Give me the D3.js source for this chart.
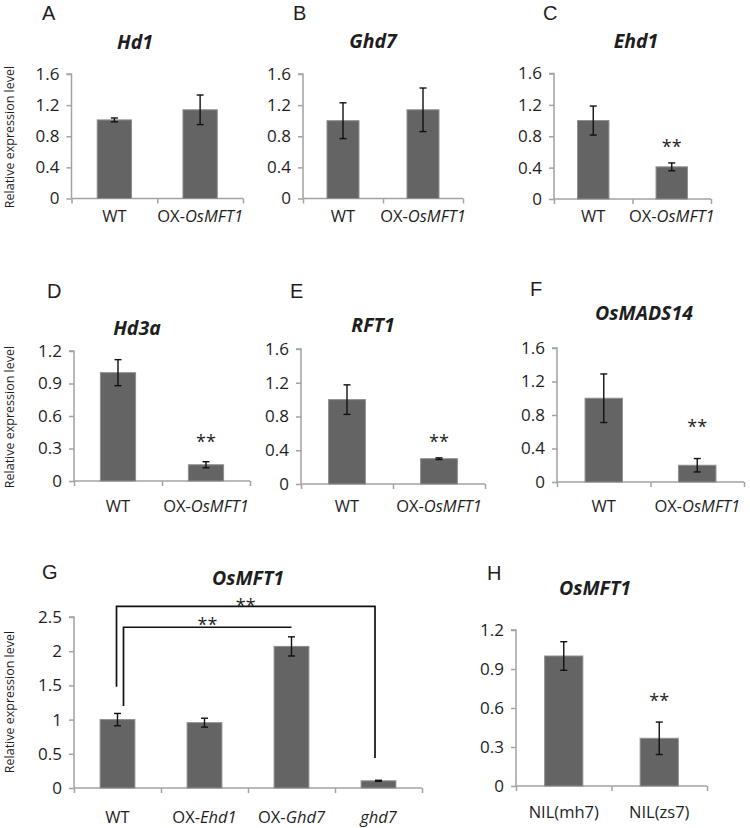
<!DOCTYPE html>
<html>
<head>
<meta charset="utf-8">
<style>
  body { margin: 0; background: #fff; }
  svg { display: block; font-family: "Open Sans", sans-serif; }
</style>
</head>
<body>
<svg width="750" height="828"></svg>

<script src="https://d3js.org/d3.v7.min.js"></script>
<script>
  // ---- data ----
  const letters = ["A", "B", "C", "D", "E", "F", "G", "H"];
  const genes = ["Hd1", "Ghd7", "Ehd1", "Hd3a", "RFT1", "OsMADS14", "OsMFT1", "OsMFT1"];

  // <i>..</i> marks the italic part of a label
  const oxCategories = ["WT", "OX-<i>OsMFT1</i>"];
  const gCategories = ["WT", "OX-<i>Ehd1</i>", "OX-<i>Ghd7</i>", "<i>ghd7</i>"];
  const hCategories = ["NIL(mh7)", "NIL(zs7)"];

  const means = [
    [1.01, 1.14],
    [1.00, 1.14],
    [1.00, 0.41],
    [1.00, 0.15],
    [1.00, 0.30],
    [1.00, 0.20],
    [1.00, 0.955, 2.07, 0.105],
    [1.00, 0.367]
  ];
  const errors = [
    [0.025, 0.19],
    [0.23, 0.28],
    [0.185, 0.05],
    [0.12, 0.028],
    [0.175, 0.01],
    [0.29, 0.08],
    [0.09, 0.065, 0.14, 0.008],
    [0.11, 0.125]
  ];

  const ticks16 = [0, 0.4, 0.8, 1.2, 1.6];
  const ticks12 = [0, 0.3, 0.6, 0.9, 1.2];
  const ticks25 = [0, 0.5, 1, 1.5, 2, 2.5];
  const tickSets = [ticks16, ticks16, ticks16, ticks12, ticks16, ticks16, ticks25, ticks12];

  // level (data units) where the "**" sits above the 2nd bar, null = none
  const starLevels = [null, null, 0.71, 0.40, 0.545, 0.71, null, 0.687];

  // significance brackets in panel G: from/to category index, levels in data units
  const gBrackets = [
    { from: 0, to: 3, level: 2.655, dropFrom: 1.48, dropTo: 0.44, star: 2.72 },
    { from: 0, to: 2, level: 2.35, dropFrom: 1.2, dropTo: null, star: 2.44 }
  ];

  // ---- layout of each panel (pixels) ----
  const layout = [
    { x0: 71.5, x1: 243, yTop: 74, y0: 198.5, tx: 135, ty: 49, lx: 42, ly: 20, labY: 222, yLab: [9, 137] },
    { x0: 303, x1: 463, yTop: 74, y0: 198.5, tx: 373, ty: 48, lx: 293, ly: 20, labY: 222 },
    { x0: 554, x1: 711, yTop: 73.5, y0: 199, tx: 636, ty: 48, lx: 543, ly: 20, labY: 222 },
    { x0: 74, x1: 250, yTop: 351, y0: 481, tx: 137, ty: 335, lx: 47, ly: 298, labY: 512, yLab: [9, 417] },
    { x0: 301, x1: 485, yTop: 349, y0: 484, tx: 373, ty: 332, lx: 290, ly: 298, labY: 512 },
    { x0: 557, x1: 744, yTop: 348, y0: 482, tx: 644, ty: 320, lx: 530, ly: 296, labY: 512 },
    { x0: 74, x1: 422, yTop: 617, y0: 788, tx: 248, ty: 585, lx: 42, ly: 579, labY: 823, yLab: [9, 702] },
    { x0: 516, x1: 707, yTop: 630, y0: 786, tx: 595, ty: 595, lx: 487, ly: 580, labY: 818 }
  ];
  const bracketDx = [[-1, -3.5], [6, 0]];

  const categorySets = [oxCategories, oxCategories, oxCategories, oxCategories,
                        oxCategories, oxCategories, gCategories, hCategories];

  const axisColor = "#a3a3a3",
        barFill = "#646464",
        barEdge = "#8e8e8e",
        textColor = "#1e1e1e";

  const svg = d3.select("svg");

  // writes a label with optional <i>..</i> part as tspans
  function richText(sel, label) {
    label.split(/(<i>.*?<\/i>)/).filter(s => s.length).forEach(part => {
      const italic = part.startsWith("<i>");
      sel.append("tspan")
        .attr("font-style", italic ? "italic" : "normal")
        .text(part.replace(/<\/?i>/g, ""));
    });
  }

  function stars(g, cx, cy) {
    g.append("text")
      .attr("x", cx)
      .attr("y", cy + 10)
      .attr("text-anchor", "middle")
      .attr("font-size", 18)
      .attr("fill", textColor)
      .text("**");
  }

  letters.forEach((letter, p) => {
    const L = layout[p],
          cats = categorySets[p],
          ticks = tickSets[p],
          g = svg.append("g");

    const data = cats.map((c, i) => ({ cat: c, mean: means[p][i], err: errors[p][i] }));

    const x = d3.scaleBand()
      .domain(cats)
      .range([L.x0, L.x1])
      .paddingInner(0.6)
      .paddingOuter(0.3);
    const cx = c => x(c) + x.bandwidth() / 2;

    const xEdges = d3.scaleLinear().domain([0, cats.length]).range([L.x0, L.x1]);

    const y = d3.scaleLinear()
      .domain([0, d3.max(ticks)])
      .range([L.y0, L.yTop]);

    // panel letter and gene title
    g.append("text")
      .attr("x", L.lx).attr("y", L.ly)
      .attr("font-family", "'Liberation Sans', Arial, sans-serif")
      .attr("font-size", 20)
      .attr("fill", textColor)
      .text(letter);

    g.append("text")
      .attr("x", L.tx).attr("y", L.ty)
      .attr("text-anchor", "middle")
      .attr("font-size", 19.5)
      .attr("font-weight", "bold")
      .attr("font-style", "italic")
      .attr("fill", textColor)
      .text(genes[p]);

    // y axis
    const yAxis = g.append("g")
      .attr("transform", `translate(${L.x0},0)`)
      .call(d3.axisLeft(y).tickValues(ticks).tickSize(5).tickPadding(7)
        .tickFormat(d => d3.format("~g")(d)));
    yAxis.select(".domain").attr("stroke", axisColor).attr("stroke-width", 1.5)
      .attr("d", `M-5,${L.yTop}H0V${L.y0}`);
    yAxis.selectAll(".tick line").attr("stroke", axisColor).attr("stroke-width", 1.5);
    yAxis.selectAll(".tick text").attr("font-size", 17).attr("fill", textColor)
      .attr("font-family", "'Open Sans', sans-serif");

    // x axis with ticks between categories (Excel style)
    const xAxis = g.append("g")
      .attr("transform", `translate(0,${L.y0})`)
      .call(d3.axisBottom(xEdges).tickValues(d3.range(cats.length + 1)).tickSize(5).tickFormat(""));
    xAxis.select(".domain").attr("stroke", axisColor).attr("stroke-width", 1.5)
      .attr("d", `M${L.x0},0H${L.x1}`);
    xAxis.selectAll(".tick line").attr("stroke", axisColor).attr("stroke-width", 1.5);

    // category labels
    data.forEach(d => {
      const t = g.append("text")
        .attr("x", cx(d.cat))
        .attr("y", L.labY)
        .attr("text-anchor", "middle")
        .attr("font-size", 16.5)
        .attr("fill", textColor);
      richText(t, d.cat);
    });

    // bars
    g.selectAll("rect.bar")
      .data(data)
      .join("rect")
      .attr("class", "bar")
      .attr("x", d => x(d.cat))
      .attr("y", d => y(d.mean))
      .attr("width", x.bandwidth())
      .attr("height", d => L.y0 - y(d.mean))
      .attr("fill", barFill)
      .attr("stroke", barEdge)
      .attr("stroke-width", 1);

    // error bars
    const eb = g.selectAll("g.err")
      .data(data)
      .join("g")
      .attr("class", "err")
      .attr("stroke", "#111")
      .attr("stroke-width", 1.4);
    eb.append("line")
      .attr("x1", d => cx(d.cat))
      .attr("x2", d => cx(d.cat))
      .attr("y1", d => y(d.mean + d.err))
      .attr("y2", d => y(d.mean - d.err));
    [1, -1].forEach(s => {
      eb.append("line")
        .attr("x1", d => cx(d.cat) - 3.5)
        .attr("x2", d => cx(d.cat) + 3.5)
        .attr("y1", d => y(d.mean + s * d.err))
        .attr("y2", d => y(d.mean + s * d.err));
    });

    // significance stars
    if (starLevels[p] !== null) stars(g, cx(cats[1]), y(starLevels[p]));

    // brackets in panel G
    if (p === 6) {
      gBrackets.forEach((b, k) => {
        const xa = cx(cats[b.from]) + bracketDx[k][0],
              xb = cx(cats[b.to]) + bracketDx[k][1];
        let path = `M${xa},${y(b.dropFrom)}V${y(b.level)}H${xb}`;
        if (b.dropTo !== null) path += `V${y(b.dropTo)}`;
        g.append("path")
          .attr("d", path)
          .attr("fill", "none")
          .attr("stroke", "#111")
          .attr("stroke-width", 1.7);
        stars(g, (xa + xb) / 2, y(b.star));
      });
    }

    // y axis title
    if (L.yLab) {
      g.append("text")
        .attr("transform", `translate(${L.yLab[0]},${L.yLab[1]}) rotate(-90)`)
        .attr("text-anchor", "middle")
        .attr("dominant-baseline", "central")
        .attr("font-size", 12.5)
        .attr("fill", textColor)
        .text("Relative expression level");
    }
  });
</script>
</body>
</html>
